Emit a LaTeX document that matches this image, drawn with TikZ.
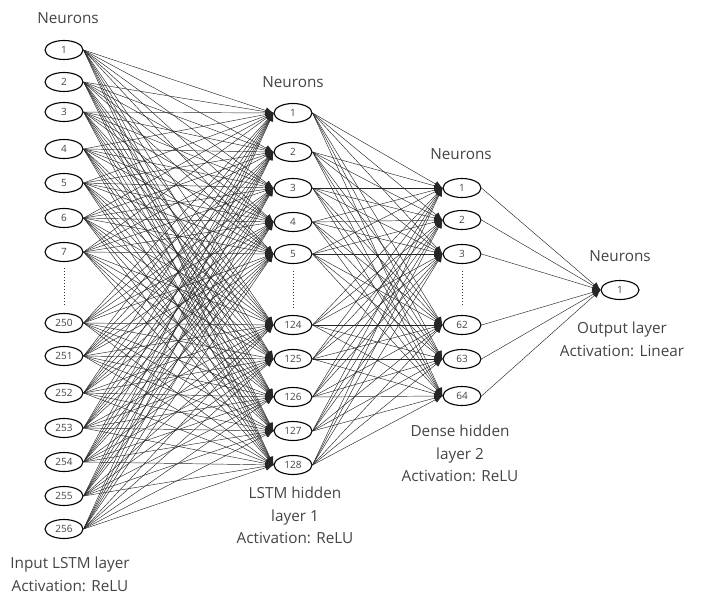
\documentclass[tikz,border=0pt]{standalone}
\usepackage{fontspec}
\setmainfont{Open Sans}
\usetikzlibrary{shapes.geometric,arrows.meta}
\definecolor{txt}{HTML}{444444}
\begin{document}
\begin{tikzpicture}[x=1pt,y=-1pt,
  neuron/.style={ellipse,draw=black,line width=1.1pt,minimum width=38pt,minimum height=19pt,inner sep=0pt,text=txt,font=\fontsize{10}{10}\selectfont},
  conn/.style={draw=black!85,line width=0.45pt,-{Latex[length=8pt,width=6.5pt]}},
  lbl/.style={text=txt,font=\fontsize{15.3}{22.5}\selectfont,align=center,inner sep=0pt},
  vdots/.style={dotted,line width=1pt,draw=black!80}]
\useasboundingbox (0,0) rectangle (709,599);
% layer A (input)
\foreach \n/\l/\y in {1/1/50,2/2/82,3/3/112,4/4/149,5/5/183,6/6/218,7/7/252,8/250/323,9/251/356,10/252/393,11/253/428,12/254/462,13/255/496,14/256/529}
  \node[neuron] (a\n) at (64,\y) {\l};
% layer B
\foreach \n/\l/\y in {1/1/113,2/2/152,3/3/188,4/4/222,5/5/254,6/124/325,7/125/359,8/126/397,9/127/431,10/128/465}
  \node[neuron] (b\n) at (293,\y) {\l};
% layer C
\foreach \n/\l/\y in {1/1/188,2/2/220,3/3/254,4/62/325,5/63/359,6/64/396}
  \node[neuron] (c\n) at (462,\y) {\l};
% output
\node[neuron] (d1) at (620,290) {1};
% connections
\foreach \i in {1,...,14}
  \foreach \j in {1,...,10}
    \draw[conn] (a\i.east) -- (b\j.west);
\foreach \i in {1,...,10}
  \foreach \j in {1,...,6}
    \draw[conn] (b\i.east) -- (c\j.west);
\foreach \i in {1,...,6}
  \draw[conn] (c\i.east) -- (d1.west);
% dots
\coordinate (da1) at (64,268); \coordinate (da2) at (64,306);
\draw[vdots] (da1) -- (da2);
\coordinate (db1) at (293,271); \coordinate (db2) at (293,309);
\draw[vdots] (db1) -- (db2);
\coordinate (dc1) at (462,271); \coordinate (dc2) at (462,306);
\draw[vdots] (dc1) -- (dc2);
% labels
\node[lbl] (na) at (68,18) {Neurons};
\node[lbl] (nb) at (293,82) {Neurons};
\node[lbl] (nc) at (461,154) {Neurons};
\node[lbl] (nd) at (620,256) {Neurons};
\node[lbl,anchor=north] (la) at (70,557) {Input LSTM layer\\Activation: ReLU};
\node[lbl,anchor=north] (lb) at (295,487) {LSTM hidden\\layer 1\\Activation: ReLU};
\node[lbl,anchor=north] (lc) at (460,425) {Dense hidden\\layer 2\\Activation: ReLU};
\node[lbl,anchor=north] (ld) at (622,322) {Output layer\\Activation: Linear};
\end{tikzpicture}
\end{document}
